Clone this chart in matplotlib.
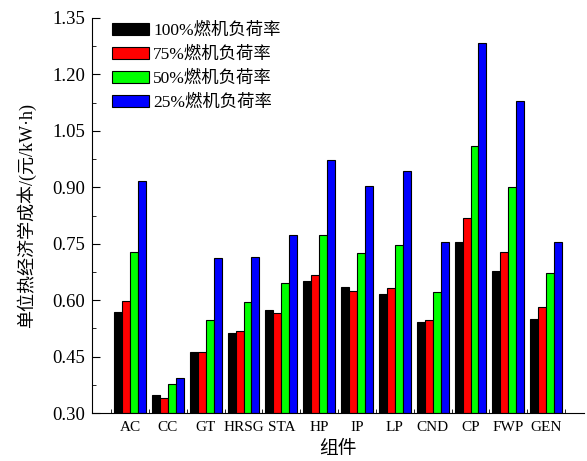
#!/usr/bin/env python3
"""各组件在不同燃机负荷率下的单位热经济学成本柱状图。"""
import matplotlib.pyplot as plt
import numpy as np
from matplotlib.ticker import MultipleLocator

plt.rcParams['font.family'] = ['Liberation Serif', 'Noto Sans CJK SC']
plt.rcParams['axes.unicode_minus'] = False

components = ['AC', 'CC', 'GT', 'HRSG', 'STA', 'HP', 'IP', 'LP', 'CND', 'CP', 'FWP', 'GEN']
load_labels = ['100%燃机负荷率', '75%燃机负荷率', '50%燃机负荷率', '25%燃机负荷率']
load_colors = ['#000000', '#ff0000', '#00ff00', '#0000ff']

cost_100 = [0.568, 0.347, 0.461, 0.514, 0.573, 0.650, 0.634, 0.616, 0.543, 0.755, 0.677, 0.550]
cost_75 = [0.597, 0.341, 0.461, 0.519, 0.567, 0.667, 0.625, 0.632, 0.547, 0.819, 0.727, 0.583]
cost_50 = [0.729, 0.376, 0.546, 0.595, 0.646, 0.773, 0.726, 0.747, 0.622, 1.010, 0.902, 0.672]
cost_25 = [0.918, 0.393, 0.711, 0.714, 0.774, 0.973, 0.904, 0.944, 0.755, 1.284, 1.130, 0.754]

series = [cost_100, cost_75, cost_50, cost_25]
BASE = 0.30

fig = plt.figure(figsize=(5.87, 4.61), dpi=100)
ax = fig.add_axes([0.157, 0.104, 0.838, 0.857])

x = np.arange(1, len(components) + 1)
width = 0.21
for i, (vals, color, label) in enumerate(zip(series, load_colors, load_labels)):
    vals = np.asarray(vals)
    ax.bar(x + (i - 1.5) * width, vals - BASE, width, bottom=BASE,
           color=color, edgecolor='black', linewidth=0.8, label=label)

ax.set_xlim(0, 13)
ax.set_ylim(0.30, 1.35)
ax.yaxis.set_major_locator(MultipleLocator(0.15))
ax.yaxis.set_minor_locator(MultipleLocator(0.075))
ax.yaxis.set_major_formatter(plt.FuncFormatter(lambda v, _: f'{v:.2f}'))

ax.set_xticks(x)
ax.set_xticklabels(components, fontsize=11)
ax.set_xticks(np.arange(0.5, 13, 1), minor=True)
ax.tick_params(axis='x', which='major', length=0, pad=6)
ax.tick_params(axis='x', which='minor', direction='in', length=3)
ax.tick_params(axis='y', which='major', direction='in', length=6, labelsize=13.5, pad=5)
ax.tick_params(axis='y', which='minor', direction='in', length=3)

for side in ('top', 'right'):
    ax.spines[side].set_visible(False)

ax.set_xlabel('组件', fontsize=13.5, labelpad=5)
ax.set_ylabel('单位热经济学成本/(元/kW·h)', fontsize=13, labelpad=12)

ax.legend(loc='upper left', bbox_to_anchor=(0.02, 1.015), frameon=False,
          fontsize=12.5, handlelength=2.1, handleheight=0.7,
          labelspacing=0.45, handletextpad=0.25, borderaxespad=0.2)

fig.savefig('out.png', dpi=100)
